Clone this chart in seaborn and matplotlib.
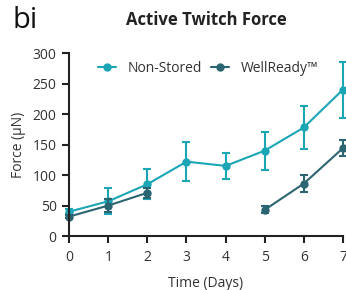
import matplotlib
matplotlib.use("Agg")
import matplotlib.pyplot as plt
import seaborn as sns
import pandas as pd
import numpy as np

# data
days = [0, 1, 2, 3, 4, 5, 6, 7]
non_stored = [40, 57, 85, 122, 115, 140, 178, 240]
non_stored_err = [4, 21, 25, 32, 21, 31, 36, 46]
well_days = [0, 1, 2, 5, 6, 7]
well_ready = [32, 50, 71, 43, 86, 144]
well_ready_err = [3, 10, 8, 6, 14, 13]
well_seg = [0, 0, 0, 1, 1, 1]  # gap between day 2 and day 5

c_non = "#1ba6b6"
c_well = "#2c6572"

sns.set_theme(style="ticks")
plt.rcParams['font.family'] = ['Open Sans', 'DejaVu Sans']

df = pd.concat([
    pd.DataFrame({"day": days, "force": non_stored, "err": non_stored_err,
                  "series": "Non-Stored", "seg": 0}),
    pd.DataFrame({"day": well_days, "force": well_ready, "err": well_ready_err,
                  "series": "WellReady™", "seg": well_seg}),
], ignore_index=True)

fig = plt.figure(figsize=(3.46, 2.90), dpi=100)
ax = fig.add_axes([0.2, 0.186, 0.791, 0.631])

palette = {"Non-Stored": c_non, "WellReady™": c_well}
sns.lineplot(data=df, x="day", y="force", hue="series", units="seg",
             estimator=None, marker="o", markersize=6, markeredgewidth=0,
             linewidth=1.5, palette=palette, ax=ax, legend=False, clip_on=False)
for name, sub in df.groupby("series"):
    ax.errorbar(sub["day"], sub["force"], yerr=sub["err"], fmt="none",
                ecolor=palette[name], elinewidth=1.5, capsize=3, capthick=1.5,
                clip_on=False)

ax.set_xlim(0, 7)
ax.set_ylim(0, 300)
ax.set_xticks(days)
ax.set_yticks(range(0, 301, 50))
ax.tick_params(labelsize=10, width=1.5, length=5, pad=4, colors="#222222", labelcolor="#333333")
ax.tick_params(axis="x", pad=5)
for s in ["left", "bottom"]:
    ax.spines[s].set_linewidth(1.5)
    ax.spines[s].set_color("#222222")
sns.despine(ax=ax)
ax.set_xlabel("Time (Days)", fontsize=10, color="#333333", labelpad=8)
ax.set_ylabel("Force (μN)", fontsize=10, color="#333333", labelpad=5)

handles = [plt.Line2D([], [], color=c_non, marker="o", markersize=5, lw=1.5),
           plt.Line2D([], [], color=c_well, marker="o", markersize=5, lw=1.5)]
ax.legend(handles, ["Non-Stored", "WellReady™"], ncol=2, frameon=False,
          loc="upper left", bbox_to_anchor=(0.06, 1.025), fontsize=10,
          handlelength=1.3, columnspacing=0.7, handletextpad=0.8,
          labelcolor="#333333")

fig.text(0.596, 0.93, "Active Twitch Force", ha="center", va="center",
         fontsize=12, fontweight="bold", color="#222222")
fig.text(0.035, 0.93, "bi", ha="left", va="center", fontsize=21, color="#111111")

fig.savefig("out.png", dpi=100)
